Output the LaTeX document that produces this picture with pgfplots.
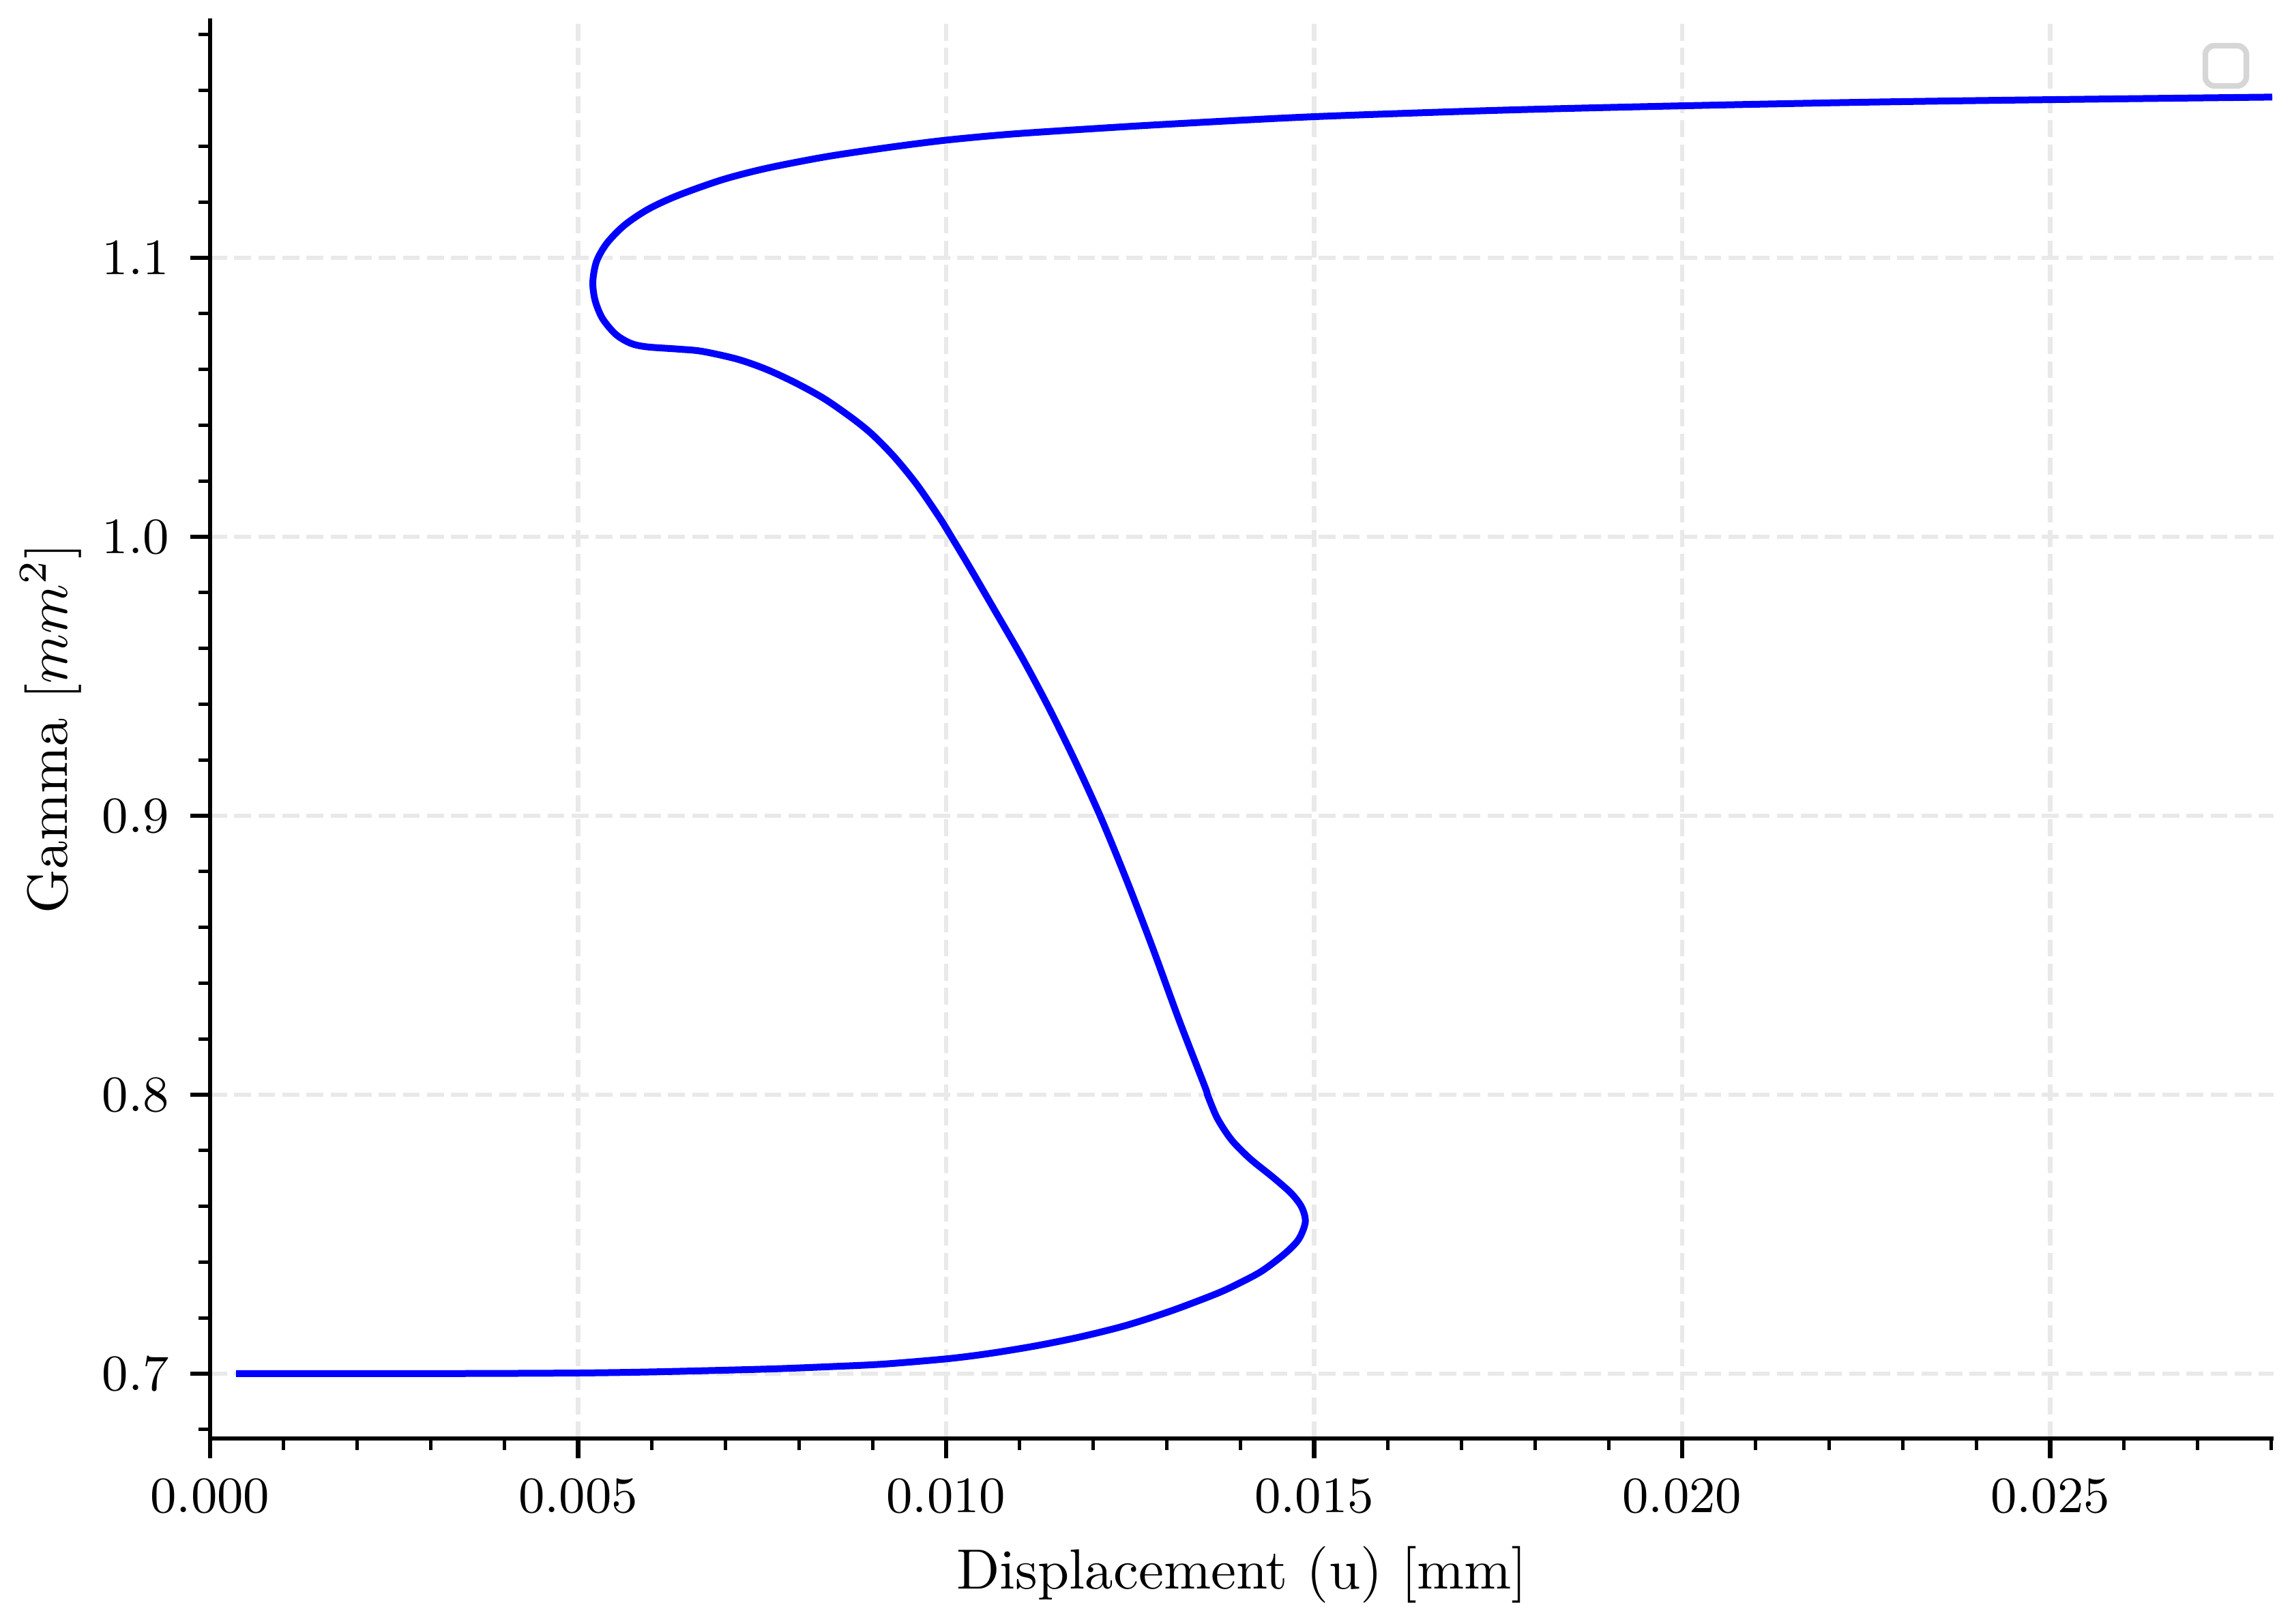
\documentclass[border=0pt]{standalone}
\usepackage{pgfplots}
\pgfplotsset{compat=1.18}
\definecolor{gridc}{RGB}{233,233,233}
\definecolor{legc}{RGB}{214,214,214}
\pgfplotstableread{
u gamma
0.00040 0.70000
0.00150 0.70000
0.00276 0.70002
0.00400 0.70010
0.00500 0.70024
0.00570 0.70048
0.00631 0.70081
0.00700 0.70125
0.00773 0.70179
0.00845 0.70255
0.00914 0.70342
0.01001 0.70533
0.01058 0.70721
0.01120 0.70988
0.01182 0.71317
0.01244 0.71726
0.01306 0.72253
0.01367 0.72863
0.01398 0.73240
0.01429 0.73680
0.01460 0.74300
0.01479 0.74820
0.01488 0.75440
0.01483 0.75970
0.01469 0.76460
0.01445 0.77020
0.01414 0.77680
0.01392 0.78250
0.01380 0.78660
0.01367 0.79230
0.01355 0.80000
0.013518 0.8027
0.013164 0.8268
0.012809 0.8524
0.012454 0.8768
0.012100 0.8995
0.011745 0.9200
0.011390 0.9390
0.011036 0.9565
0.010681 0.9727
0.010326 0.9888
0.010060 1.0005
0.009900 1.0073
0.009600 1.0188
0.009300 1.0285
0.009000 1.0366
0.008730 1.0424
0.008350 1.0494
0.007960 1.0551
0.007560 1.0600
0.007160 1.0637
0.006680 1.0665
0.006350 1.0673
0.005930 1.0681
0.00571 1.0694
0.00551 1.0726
0.00533 1.0783
0.00523 1.0848
0.00520 1.0914
0.00525 1.0987
0.00539 1.1052
0.00563 1.1117
0.00595 1.1174
0.00635 1.1223
0.00696 1.1280
0.00756 1.1321
0.00836 1.1362
0.00917 1.1394
0.00997 1.1421
0.01086 1.1443
0.01200 1.1463
0.01308 1.1480
0.01500 1.1506
0.01752 1.1529
0.02001 1.1545
0.02252 1.1558
0.02500 1.1567
0.02797 1.1576
}\curvedata
\begin{document}
\begin{tikzpicture}
\begin{axis}[
  name=ax,
  scale only axis,
  width=363bp, height=249.86bp,
  xmin=0, xmax=0.028035,
  ymin=0.67677, ymax=1.18587,
  axis lines*=left,
  axis line style={line width=0.8bp, black},
  tick align=outside,
  major tick length=3.5bp,
  minor tick length=2bp,
  major tick style={line width=0.8bp, black},
  minor tick style={line width=0.6bp, black},
  xtick={0,0.005,0.01,0.015,0.02,0.025},
  minor xtick={0.001,0.002,0.003,0.004,0.006,0.007,0.008,0.009,0.011,0.012,0.013,0.014,0.016,0.017,0.018,0.019,0.021,0.022,0.023,0.024,0.026,0.027,0.028},
  ytick={0.7,0.8,0.9,1.0,1.1},
  minor ytick={0.68,0.72,0.74,0.76,0.78,0.82,0.84,0.86,0.88,0.92,0.94,0.96,0.98,1.02,1.04,1.06,1.08,1.12,1.14,1.16,1.18},
  scaled x ticks=false,
  scaled y ticks=false,
  tick label style={font=\small, inner sep=0pt},
  xticklabel style={yshift=-3.5bp, /pgf/number format/fixed, /pgf/number format/fixed zerofill, /pgf/number format/precision=3},
  yticklabel style={xshift=-3.5bp, /pgf/number format/fixed, /pgf/number format/fixed zerofill, /pgf/number format/precision=1},
  xmajorgrids, ymajorgrids,
  major grid style={draw=gridc, line width=0.8bp, dash pattern=on 2.96bp off 1.28bp},
  xlabel={Displacement (u) [mm]},
  ylabel={Gamma [$mm^2$]},
  label style={font=\normalsize},
  xlabel style={at={(axis description cs:0.5,-0.1061)}, anchor=base},
  ylabel style={at={(axis description cs:-0.0694,0.5)}, anchor=base},
]
\addplot[color=blue, line width=1.2bp, line cap=rect, line join=round, smooth, tension=0.5] table[x=u, y=gamma] {\curvedata};
\draw[draw=legc, fill=white, line width=1bp, rounded corners=1.6bp]
  (axis description cs:0.9669,0.9524) rectangle (axis description cs:0.9868,0.9807);
\end{axis}
\pgfresetboundingbox
\path[use as bounding box] ([xshift=-36.96bp, yshift=-32.52bp]ax.south west) rectangle ([xshift=3.24bp, yshift=3.22bp]ax.north east);
\end{tikzpicture}
\end{document}
